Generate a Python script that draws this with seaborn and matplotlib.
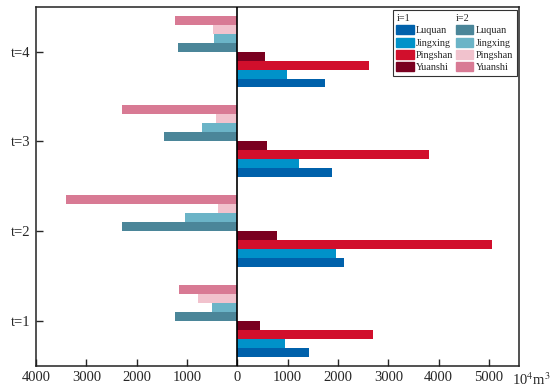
import numpy as np
import pandas as pd
import matplotlib
matplotlib.use("Agg")
import matplotlib.pyplot as plt
import seaborn as sns
from matplotlib.patches import Patch
from matplotlib.ticker import FuncFormatter

# --- Data ---
periods = ["t=1", "t=2", "t=3", "t=4"]
regions = ["Luquan", "Jingxing", "Pingshan", "Yuanshi"]

# i=1 (positive side)
luquan_1 = [1420, 2110, 1890, 1750]
jingxing_1 = [950, 1965, 1220, 985]
pingshan_1 = [2700, 5060, 3810, 2625]
yuanshi_1 = [450, 790, 590, 545]

# i=2 (drawn on the negative side)
luquan_2 = [1235, 2290, 1450, 1175]
jingxing_2 = [510, 1040, 710, 465]
pingshan_2 = [790, 380, 430, 490]
yuanshi_2 = [1150, 3400, 2290, 1235]

colors_1 = ["#0061ab", "#0092c9", "#d10f2c", "#7a0020"]
colors_2 = ["#4b8699", "#6bb4c7", "#f1c2cd", "#d87a94"]

# --- Long table ---
rows = []
series_1 = [luquan_1, jingxing_1, pingshan_1, yuanshi_1]
series_2 = [luquan_2, jingxing_2, pingshan_2, yuanshi_2]
for r, vals in zip(regions, series_1):
    for p, v in zip(periods, vals):
        rows.append({"t": p, "series": f"{r} i=1", "value": v})
for r, vals in zip(regions, series_2):
    for p, v in zip(periods, vals):
        rows.append({"t": p, "series": f"{r} i=2", "value": -v})
df = pd.DataFrame(rows)

# bottom-to-top inside each group: i=1 Luquan..Yuanshi, then i=2 Luquan..Yuanshi
stack = [f"{r} i=1" for r in regions] + [f"{r} i=2" for r in regions]
palette = dict(zip(stack, colors_1 + colors_2))
hue_order = stack[::-1]          # y axis is inverted for categories

# --- Plot ---
sns.set_style("ticks")
plt.rcParams["font.family"] = ["Liberation Serif", "DejaVu Serif"]
plt.rcParams["mathtext.fontset"] = "stix"

fig = plt.figure(figsize=(5.5, 3.9), dpi=100)
ax = fig.add_axes([0.0655, 0.0623, 0.8785, 0.9205])

sns.barplot(data=df, x="value", y="t", hue="series", order=periods[::-1],
            hue_order=hue_order, palette=palette, orient="h", width=0.8,
            saturation=1, errorbar=None, linewidth=0, ax=ax, legend=False)

ax.axvline(0, color="black", lw=1.2, zorder=5)
ax.set_xlim(-4000, 5600)
ax.set_ylim(3.5, -0.5)
ax.set_xticks(np.arange(-4000, 5001, 1000))
ax.xaxis.set_major_formatter(FuncFormatter(lambda v, _: f"{abs(v):.0f}"))
ax.set_xlabel("")
ax.set_ylabel("")
ax.tick_params(direction="in", length=5, width=1, labelsize=10.5, pad=4)
for s in ax.spines.values():
    s.set_linewidth(1.1)
    s.set_color("#222222")

ax.annotate(r"10$^4$m$^3$", xy=(1.0, 0), xycoords="axes fraction",
            xytext=(-5, -10), textcoords="offset points", fontsize=10.5,
            ha="left", va="center")

# legend: two columns with headers
blank = Patch(visible=False)
handles = [blank] + [Patch(color=c) for c in colors_1] + [blank] + [Patch(color=c) for c in colors_2]
labels = ["i=1"] + regions + ["i=2"] + regions
leg = ax.legend(handles, labels, ncol=2, loc="upper right",
                bbox_to_anchor=(0.995, 0.992), fontsize=7.3, frameon=True,
                fancybox=False, edgecolor="black", handlelength=1.7,
                handleheight=1.0, handletextpad=0.25, columnspacing=0.25,
                labelspacing=0.22, borderpad=0.35, borderaxespad=0)
leg.get_frame().set_linewidth(0.8)

fig.canvas.draw()
texts = leg.get_texts()
hnd = leg.legend_handles
for hi, pi in [(0, 1), (5, 6)]:
    tb = texts[hi].get_window_extent()
    hb = hnd[pi].get_window_extent()
    texts[hi].set_visible(False)
    fig.text(hb.x0 / fig.bbox.width, tb.y0 / fig.bbox.height, labels[hi],
             fontsize=7.3, va="bottom", ha="left")

fig.savefig("out.png", dpi=100)
